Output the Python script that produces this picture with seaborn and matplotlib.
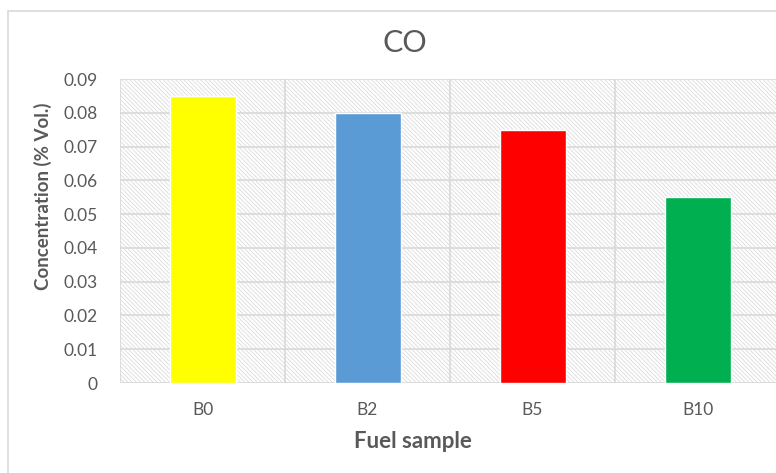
import matplotlib
matplotlib.use("Agg")
import matplotlib.pyplot as plt
import seaborn as sns
import pandas as pd
from matplotlib.patches import Rectangle

categories = ["B0", "B2", "B5", "B10"]
values = [0.085, 0.080, 0.075, 0.055]
colors = ["#FFFF00", "#5B9BD5", "#FF0000", "#00B050"]
yticks = [0, 0.01, 0.02, 0.03, 0.04, 0.05, 0.06, 0.07, 0.08, 0.09]
ytick_labels = ["0", "0.01", "0.02", "0.03", "0.04", "0.05", "0.06", "0.07", "0.08", "0.09"]
title = "CO"
xlabel = "Fuel sample"
ylabel = "Concentration (% Vol.)"

sns.set_style("white")
FONT = ["Lato", "DejaVu Sans"]
plt.rcParams["font.family"] = FONT
plt.rcParams["hatch.linewidth"] = 0.6
txt = "#595959"
grid = "#d9d9d9"

W, H = 776, 473
fig = plt.figure(figsize=(W / 100, H / 100), dpi=100)
ax = fig.add_axes([120 / W, (H - 383) / H, 660 / W, 304 / H])

# frame of the chart area (cut off on right and bottom)
fig.patches.append(Rectangle((8 / W, -0.1), 2, 1 - 11 / H + 0.1, transform=fig.transFigure,
                             fill=False, edgecolor=grid, lw=1.2, zorder=0))

# hatched plot area
ax.set_facecolor("white")
bg = Rectangle((0, 0), 1, 1, transform=ax.transAxes, facecolor="white",
               edgecolor="#dcdcdc", hatch="\\" * 8, lw=0, zorder=0)
ax.add_patch(bg)

df = pd.DataFrame({"cat": categories, "val": values})
sns.barplot(data=df, x="cat", y="val", hue="cat", palette=colors, width=0.4,
            legend=False, ax=ax, saturation=1, zorder=3)

ax.set_xlim(-0.5, 3.5)
ax.set_ylim(0, 0.09)
ax.set_yticks(yticks)
ax.set_yticklabels(ytick_labels)
for y in yticks:
    ax.axhline(y, color=grid, lw=1.2, zorder=1)
for x in [-0.5, 0.5, 1.5, 2.5, 3.5]:
    ax.axvline(x, color=grid, lw=1.2, zorder=1)
for s in ax.spines.values():
    s.set_visible(False)

ax.tick_params(axis="y", length=0, pad=16, labelsize=12.5, labelcolor=txt)
ax.tick_params(axis="x", length=0, pad=13.5, labelsize=12.5, labelcolor=txt)
ax.set_xlabel(xlabel, fontsize=16, fontweight="bold", color=txt, labelpad=11)
ax.xaxis.set_label_coords((413 - 120) / 660, -((441 - 383) / 304), transform=ax.transAxes)
ax.xaxis.label.set_va("center")
ax.set_ylabel(ylabel, fontsize=13.5, fontweight="bold", color=txt)
ax.yaxis.set_label_coords(-((120 - 43) / 660), (383 - 196) / 304, transform=ax.transAxes)
ax.yaxis.label.set_va("center")

fig.text(405 / W, 1 - 43 / H, title, ha="center", va="center", fontsize=22, color=txt)

fig.savefig("out.png", dpi=100)
